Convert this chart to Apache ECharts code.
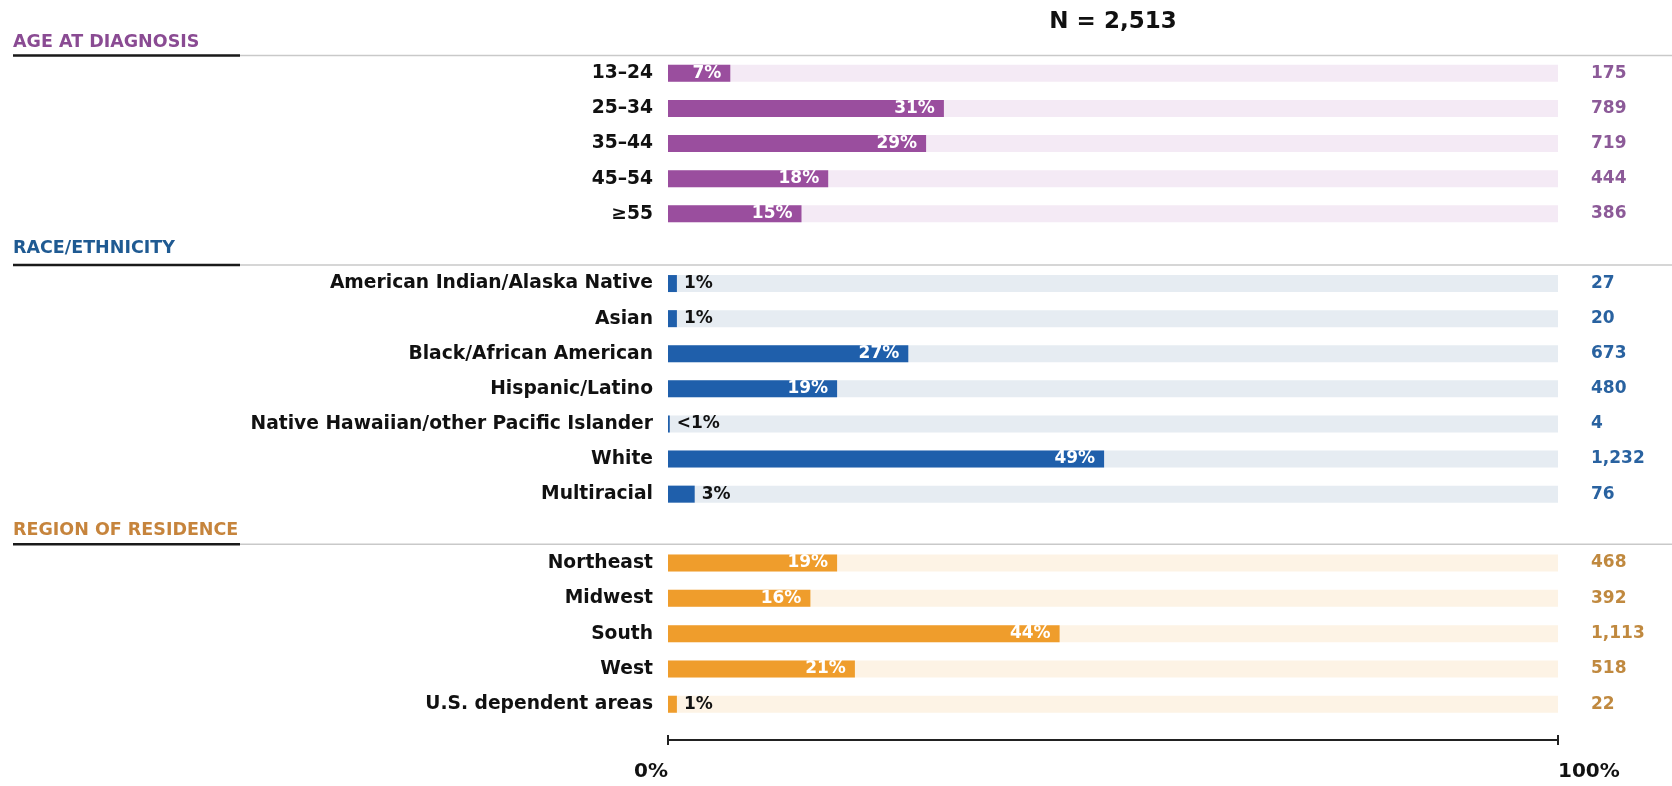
<!DOCTYPE html>
<html>
<head>
<meta charset="utf-8">
<script src="https://cdn.jsdelivr.net/npm/echarts@6/dist/echarts.min.js"></script>
<style>
  html, body { margin: 0; padding: 0; background: #ffffff; }
  #chart { width: 1672px; height: 786px; }
</style>
</head>
<body>
<div id="chart"></div>
<script>
// ---------- data ----------
const sampleTitle = 'N = 2,513';
const sectionTitles = ['AGE AT DIAGNOSIS', 'RACE/ETHNICITY', 'REGION OF RESIDENCE'];

const ageCats = ['13–24', '25–34', '35–44', '45–54', '≥55'];
const agePct = [7, 31, 29, 18, 15];
const ageN = ['175', '789', '719', '444', '386'];

const raceCats = ['American Indian/Alaska Native', 'Asian', 'Black/African American', 'Hispanic/Latino',
  'Native Hawaiian/other Pacific Islander', 'White', 'Multiracial'];
const racePct = [1, 1, 27, 19, 0.2, 49, 3];
const raceN = ['27', '20', '673', '480', '4', '1,232', '76'];

const regionCats = ['Northeast', 'Midwest', 'South', 'West', 'U.S. dependent areas'];
const regionPct = [19, 16, 44, 21, 1];
const regionN = ['468', '392', '1,113', '518', '22'];

const axisTicks = [0, 100];

// ---------- style ----------
const FONT = 'DejaVu Sans';
const sections = [
  { cats: ageCats, pct: agePct, n: ageN, bar: '#9A4E9E', bg: '#F4EAF5', head: '#8A4B93', count: '#8C5A98', top: 55.8, row: 35.1, headY: 42, lineY: 55.5 },
  { cats: raceCats, pct: racePct, n: raceN, bar: '#1F5FAB', bg: '#E6ECF2', head: '#1F5A92', count: '#2962A0', top: 266, row: 35.1, headY: 248, lineY: 265 },
  { cats: regionCats, pct: regionPct, n: regionN, bar: '#EF9D2C', bg: '#FDF3E5', head: '#C6843C', count: '#C0893F', top: 545.4, row: 35.3, headY: 530, lineY: 544.3 }
];
const LEFT = 668, RIGHT = 1672 - 1558;

const grid = [], xAxis = [], yAxis = [], series = [], graphic = [];

sections.forEach((s, i) => {
  grid.push({ left: LEFT, right: RIGHT, top: s.top, height: s.row * s.cats.length, containLabel: false });
  xAxis.push({ type: 'value', gridIndex: i, min: 0, max: 100, show: false });
  yAxis.push({
    type: 'category', gridIndex: i, data: s.cats, inverse: true, position: 'left',
    axisLine: { show: false }, axisTick: { show: false },
    axisLabel: { margin: 15, color: '#111', fontFamily: FONT, fontWeight: 'bold', fontSize: 18.7 }
  });
  yAxis.push({
    type: 'category', gridIndex: i, data: s.n, inverse: true, position: 'right',
    axisLine: { show: false }, axisTick: { show: false },
    axisLabel: { margin: 33, color: s.count, fontFamily: FONT, fontWeight: 'bold', fontSize: 17 }
  });
  series.push({
    type: 'bar', xAxisIndex: i, yAxisIndex: i * 2, barWidth: 17,
    showBackground: true, backgroundStyle: { color: s.bg },
    itemStyle: { color: s.bar },
    label: {
      show: true, fontFamily: FONT, fontWeight: 'bold', fontSize: 17,
      formatter: p => (p.value < 1 ? '<1%' : p.value + '%')
    },
    data: s.pct.map(v => ({
      value: v,
      label: v < 5 ? { position: 'right', color: '#111', distance: 7 }
                   : { position: 'insideRight', color: '#fff', distance: 9 }
    }))
  });
  // section header
  graphic.push({ type: 'line', shape: { x1: 13, y1: s.lineY, x2: 1672, y2: s.lineY }, style: { stroke: '#C9C9C9', lineWidth: 1.5 } });
  graphic.push({ type: 'line', shape: { x1: 13, y1: s.lineY, x2: 240, y2: s.lineY }, style: { stroke: '#1a1a1a', lineWidth: 2.5 } });
  graphic.push({ type: 'text', x: 13, y: s.headY, style: { text: sectionTitles[i], fill: s.head, font: 'bold 17.5px "DejaVu Sans"', textVerticalAlign: 'middle' } });
});

// bottom scale axis on the last grid
xAxis.push({
  type: 'value', gridIndex: 2, min: 0, max: 100, interval: 100, position: 'bottom', offset: 18,
  axisLine: { show: true, lineStyle: { color: '#222', width: 2 } },
  axisTick: { show: true, length: 5, inside: false, lineStyle: { color: '#222', width: 2 } },
  splitLine: { show: false },
  axisLabel: {
    show: true, margin: 22, color: '#111', fontFamily: FONT, fontWeight: 'bold', fontSize: 20,
    formatter: v => v + '%', alignMinLabel: 'right', alignMaxLabel: 'left'
  }
});
xAxis.push({
  type: 'value', gridIndex: 2, min: 0, max: 100, interval: 100, position: 'bottom', offset: 18,
  axisLine: { show: false },
  axisTick: { show: true, length: 5, inside: true, lineStyle: { color: '#222', width: 2 } },
  splitLine: { show: false }, axisLabel: { show: false }
});

graphic.push({ type: 'text', x: 1113, y: 22, style: { text: sampleTitle, fill: '#111', font: 'bold 23px "DejaVu Sans"', textAlign: 'center', textVerticalAlign: 'middle' } });

const chart = echarts.init(document.getElementById('chart'), null, { renderer: 'canvas' });
chart.setOption({
  animation: false,
  backgroundColor: '#ffffff',
  grid, xAxis, yAxis, series, graphic
});
</script>
</body>
</html>
